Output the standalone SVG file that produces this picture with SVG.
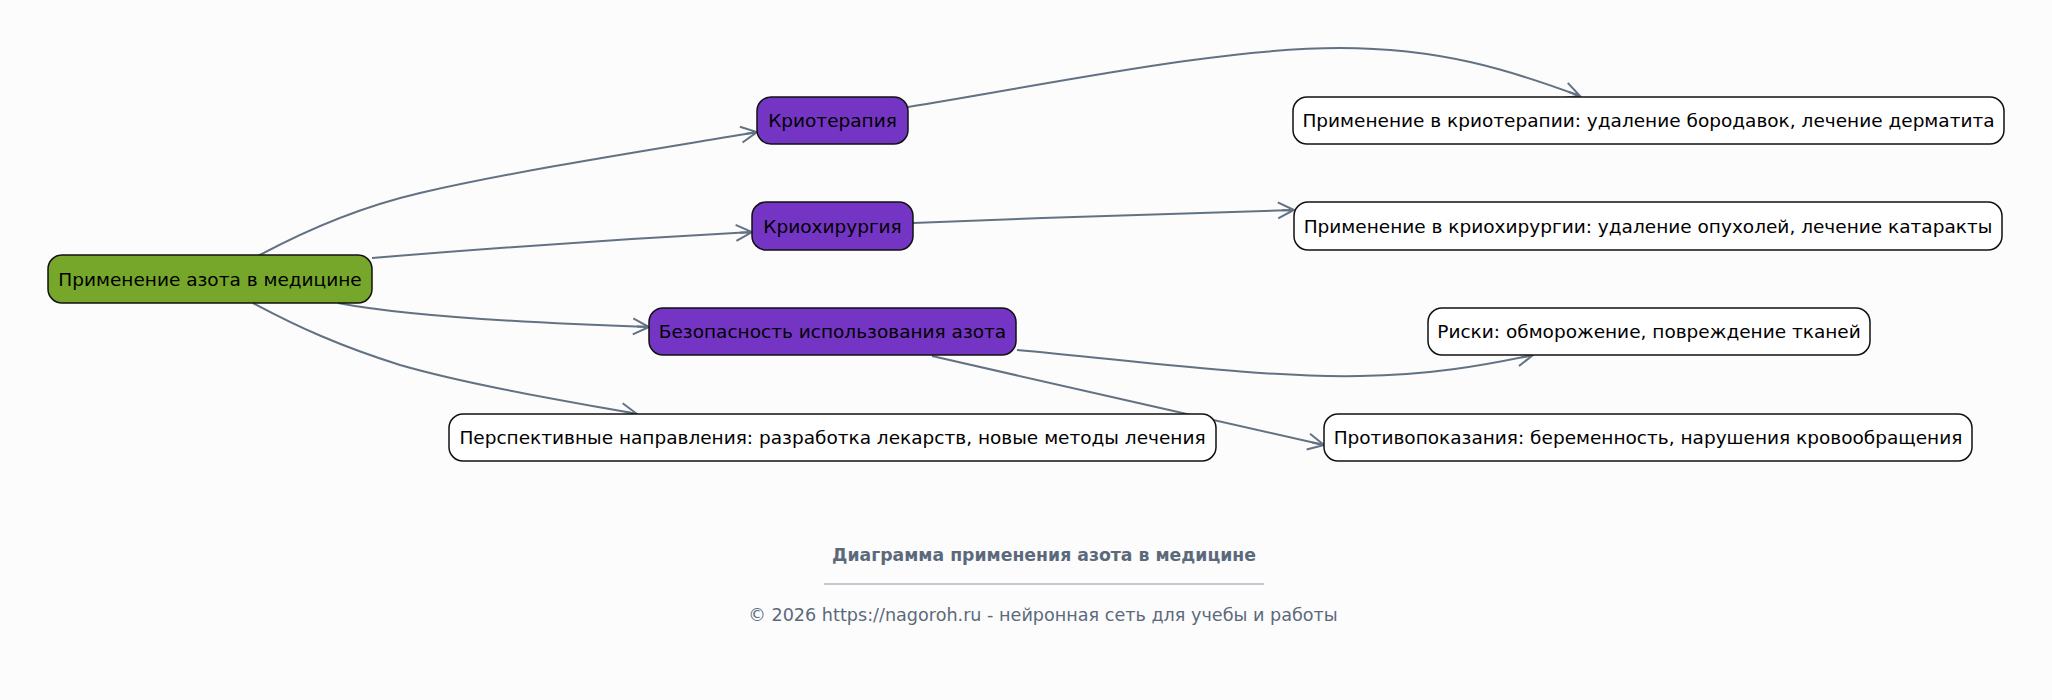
<svg xmlns="http://www.w3.org/2000/svg" width="2052" height="700" viewBox="0 0 2052 700">
<style>
.bg{fill:#fcfcfd}
.n rect{stroke:#111;stroke-width:1.5}
.root rect{fill:#76a72a}
.mid rect{fill:#7535c4}
.leaf rect{fill:#ffffff}
.n text{font-family:"DejaVu Sans",sans-serif;font-size:18.5px;fill:#000;text-anchor:middle;dominant-baseline:central}
.e path{fill:none;stroke:#627282;stroke-width:2;marker-end:url(#arr)}
.title{font-family:"DejaVu Sans",sans-serif;font-size:17.3px;font-weight:bold;fill:#5b6a7a;text-anchor:middle}
.copy{font-family:"DejaVu Sans",sans-serif;font-size:17.6px;fill:#5b6a7a;text-anchor:middle}
</style>
<defs>
<marker id="arr" viewBox="0 0 20 20" refX="18" refY="10" markerWidth="20" markerHeight="20" markerUnits="userSpaceOnUse" orient="auto">
<path d="M2,2 L18,10 L2,18 M18,10 L6,10" fill="none" stroke="#627282" stroke-width="2"/>
</marker>
</defs>
<rect class="bg" x="0" y="0" width="2052" height="700"/>
<g id="edges" class="e">
<path d="M258,256 C310,228 360,207 420,193 C520,170 650,150 757,132"/>
<path d="M372,258 C480,249 640,238 752,232"/>
<path d="M338,303 C400,315 500,322 649,327"/>
<path d="M253,303 C300,328 340,346 400,365 C470,385 560,400 637,414"/>
<path d="M908,107 C1050,84 1220,48 1340,48 C1440,48 1510,70 1580,96"/>
<path d="M913,223 C1040,218 1180,213 1294,210"/>
<path d="M1017,350 C1130,360 1260,378 1360,376 C1430,375 1480,366 1533,355"/>
<path d="M932,356 C1050,382 1200,418 1324,445"/>
</g>
<g id="n_root" class="n root"><rect x="48" y="255" width="324" height="48" rx="14"/><text x="210" y="279">Применение азота в медицине</text></g>
<g id="n_krioterapia" class="n mid"><rect x="757" y="97" width="151" height="47" rx="14"/><text x="832.5" y="120.5">Криотерапия</text></g>
<g id="n_kriohirurgia" class="n mid"><rect x="752" y="202" width="161" height="48" rx="14"/><text x="832.5" y="226">Криохирургия</text></g>
<g id="n_bezopasnost" class="n mid"><rect x="649" y="308" width="367" height="47" rx="14"/><text x="832.5" y="331.5">Безопасность использования азота</text></g>
<g id="n_perspektivy" class="n leaf"><rect x="449" y="414" width="767" height="47" rx="14"/><text x="832.5" y="437.5">Перспективные направления: разработка лекарств, новые методы лечения</text></g>
<g id="n_krioterapia_app" class="n leaf"><rect x="1293" y="97" width="711" height="47" rx="14"/><text x="1648.5" y="120.5">Применение в криотерапии: удаление бородавок, лечение дерматита</text></g>
<g id="n_kriohirurgia_app" class="n leaf"><rect x="1294" y="202" width="708" height="48" rx="14"/><text x="1648" y="226">Применение в криохирургии: удаление опухолей, лечение катаракты</text></g>
<g id="n_riski" class="n leaf"><rect x="1428" y="308" width="442" height="47" rx="14"/><text x="1649" y="331.5">Риски: обморожение, повреждение тканей</text></g>
<g id="n_protivopokazania" class="n leaf"><rect x="1324" y="414" width="648" height="47" rx="14"/><text x="1648" y="437.5">Противопоказания: беременность, нарушения кровообращения</text></g>
<text class="title" x="1044" y="561">Диаграмма применения азота в медицине</text>
<line x1="824" y1="584" x2="1264" y2="584" stroke="#8b97a3" stroke-width="1"/>
<text class="copy" x="1043" y="621">© 2026 https://nagoroh.ru - нейронная сеть для учебы и работы</text>
</svg>
